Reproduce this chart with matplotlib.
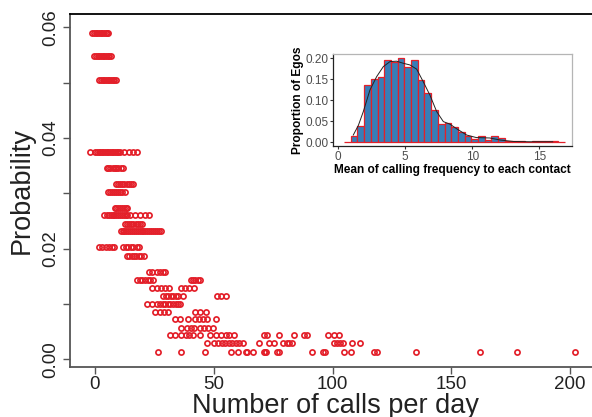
import numpy as np
import matplotlib
matplotlib.use("Agg")
import matplotlib.pyplot as plt

plt.rcParams['font.family'] = ['Liberation Sans', 'DejaVu Sans']

# main scatter: one row of points per probability level
row_p = [0.0590, 0.0548, 0.0504, 0.0375, 0.0346, 0.0317, 0.0302, 0.0274,
         0.0260, 0.0245, 0.0231, 0.0202, 0.0187, 0.0158, 0.0144, 0.0129,
         0.0115, 0.0100, 0.0086, 0.0072, 0.0057, 0.0043, 0.0029, 0.0014]
row_x = [
    [-1.1, -0.4, 0.3, 1.0, 1.7, 2.4, 3.1, 3.8, 4.5, 5.0, 5.6],
    [-0.3, 0.4, 1.1, 1.8, 2.5, 3.2, 3.9, 4.6, 5.3, 6.0, 6.9],
    [1.8, 2.5, 3.2, 3.9, 4.6, 5.3, 6.0, 6.7, 7.4, 8.1, 9.0],
    [-2.2, 0.1, 0.8, 1.5, 2.2, 2.9, 3.6, 4.3, 5.0, 5.7, 6.4, 7.1, 7.8, 8.5,
     9.2, 9.9, 10.5, 12.3, 14.2, 16.1, 17.9],
    [4.9, 5.7, 6.5, 7.4, 8.3, 9.0, 9.9, 10.8, 11.7],
    [9.0, 9.8, 10.6, 11.4, 12.4, 13.3, 14.2, 15.0, 15.9],
    [5.7, 6.5, 7.3, 8.1, 8.9, 9.7, 10.5, 11.4, 12.5],
    [8.3, 9.0, 9.8, 10.6, 11.4, 12.3, 13.0, 13.6],
    [3.7, 5.0, 5.8, 6.6, 7.4, 8.2, 9.0, 9.8, 10.6, 11.4, 12.2, 13.0, 13.6,
     14.7, 16.8, 18.9, 21.1, 22.9],
    [12.8, 13.6, 14.4, 15.3, 16.2, 17.1, 18.0, 18.8, 19.6],
    [10.8, 11.6, 12.4, 13.2, 14.0, 14.8, 15.6, 16.4, 17.2, 18.0, 18.8, 19.6,
     20.4, 21.2, 22.0, 22.8, 23.6, 24.4, 25.2, 26.0, 26.8, 28.0],
    [1.6, 3.0, 4.5, 5.8, 7.3, 7.9, 11.8, 13.0, 13.8, 15.0, 16.1, 17.5, 18.7],
    [13.7, 14.5, 15.6, 16.6, 17.4, 18.6, 19.5, 20.5],
    [22.7, 24.0, 26.0, 27.3, 28.5, 29.6],
    [17.6, 18.8, 19.8, 21.0, 22.2, 23.3, 24.3, 40.3, 41.2, 42.0, 43.3, 44.3],
    [24.1, 26.0, 27.8, 29.6, 31.2, 36.1, 37.9, 39.7, 41.7],
    [28.8, 29.9, 30.9, 32.0, 33.0, 34.0, 35.1, 36.9, 51.2, 53.2, 55.0],
    [22.0, 23.9, 26.0, 27.4, 28.5, 29.6, 30.7, 31.8, 32.9, 34.0, 35.0, 35.8],
    [25.3, 27.4, 29.1, 30.9, 42.1, 44.2, 46.6],
    [33.6, 35.9, 39.0, 42.1, 43.9, 45.6, 47.0, 50.8],
    [36.1, 38.6, 40.3, 41.7, 44.2, 45.9, 47.7, 49.6],
    [31.5, 33.8, 36.2, 38.4, 39.6, 41.1, 44.3, 48.5, 51.0, 53.0, 55.0, 56.5,
     58.5, 71.2, 72.3, 77.5, 83.8, 88.0, 89.2, 98.0, 100.8, 102.7],
    [47.2, 50.2, 51.8, 53.3, 54.8, 56.3, 57.8, 59.3, 60.8, 62.4, 69.0, 73.3,
     75.5, 79.0, 80.7, 81.8, 82.8, 100.8, 102.0, 103.2, 104.5, 108.0, 111.6],
    [26.4, 36.1, 46.5, 57.4, 60.3, 63.6, 64.2, 66.4, 71.0, 71.6, 72.1, 76.7,
     77.4, 91.5, 96.0, 97.0, 104.7, 107.7, 117.4, 118.8, 135.1, 162.0, 177.7,
     202.0],
]

# inset histogram (bin width 0.5) and density curve
bin_left = np.arange(0.43, 16.5, 0.5)
bin_h = [0, 0.0143, 0.038, 0.136, 0.151, 0.156, 0.197, 0.192, 0.201, 0.180,
         0.195, 0.148, 0.116, 0.077, 0.043, 0.045, 0.037, 0.025, 0.014, 0.008,
         0.015, 0.006, 0.015, 0.011, 0.004, 0.003, 0.002, 0.0015, 0.003, 0.003,
         0.003, 0.003, 0]
dens_x = [1.12, 1.5, 1.87, 2.36, 2.86, 3.36, 3.86, 4.35, 4.85, 5.35, 5.85,
          6.34, 6.84, 7.34, 7.84, 8.33, 8.83, 9.58, 10.3, 11.3, 12.1, 13.1,
          14.3, 16.0]
dens_y = [0.017, 0.040, 0.073, 0.124, 0.156, 0.180, 0.192, 0.193, 0.188,
          0.184, 0.174, 0.144, 0.112, 0.073, 0.049, 0.043, 0.032, 0.017,
          0.011, 0.010, 0.005, 0.0016, 0.001, 0.001]

red = '#E3202A'
grey = '#555555'

fig = plt.figure(figsize=(5.92, 4.17), dpi=100)
ax = fig.add_axes([70 / 592, 50 / 417, 530 / 592, 353 / 417])

for p, xs in zip(row_p, row_x):
    ax.plot(xs, [p] * len(xs), 'o', ms=3.7, mfc='none', mec=red, mew=1.25,
            linestyle='none', clip_on=False)

ax.set_xlim(-10.5, 212.6)
ax.set_ylim(-0.0014, 0.0624)
ax.set_xticks([0, 50, 100, 150, 200])
ax.set_yticks([0, 0.01, 0.02, 0.03, 0.04, 0.05, 0.06])
ax.set_yticklabels(['0.00', '', '0.02', '', '0.04', '', '0.06'])
ax.tick_params(axis='both', labelsize=13.5, colors='#222222', length=5,
               width=1, color=grey)
ax.tick_params(axis='x', pad=1.5)
ax.tick_params(axis='y', pad=3, labelrotation=90)
for lab in ax.get_yticklabels():
    lab.set_va('center')
ax.spines['left'].set_color(grey)
ax.spines['bottom'].set_color(grey)
ax.spines['left'].set_linewidth(1.3)
ax.spines['bottom'].set_linewidth(1.3)
ax.spines['top'].set_color('black')
ax.spines['top'].set_linewidth(1.3)
ax.spines['right'].set_visible(False)
ax.set_xlabel('Number of calls per day', fontsize=19.5, labelpad=0,
              color='#222222')
ax.set_ylabel('Probability', fontsize=19.5, labelpad=5, color='#222222')

# inset
ins = fig.add_axes([333.3 / 592, (417 - 146) / 417, 239 / 592, 91.7 / 417])
ins.bar(bin_left, bin_h, width=0.5, align='edge', color='#377EB8',
        edgecolor=red, linewidth=0.9)
ins.plot(dens_x, dens_y, color='#222222', lw=0.7)
ins.set_xlim(-0.37, 17.46)
ins.set_ylim(-0.0091, 0.2094)
ins.set_xticks([0, 5, 10, 15])
ins.set_yticks([0, 0.05, 0.10, 0.15, 0.20])
ins.set_yticklabels(['0.00', '0.05', '0.10', '0.15', '0.20'])
ins.tick_params(labelsize=8.5, colors='#4D4D4D', length=2.5, width=0.8,
                color='#333333', pad=1)
ins.spines['left'].set_color('#222222')
ins.spines['bottom'].set_color('#222222')
ins.spines['top'].set_color('#B5B5B5')
ins.spines['right'].set_color('#B5B5B5')
for s in ins.spines.values():
    s.set_linewidth(0.9)
ins.set_xlabel('Mean of calling frequency to each contact', fontsize=8.6,
               fontweight='bold', labelpad=0.5)
ins.set_ylabel('Proportion of Egos', fontsize=8.6, fontweight='bold',
               labelpad=1)

fig.savefig('out.png', dpi=100)
